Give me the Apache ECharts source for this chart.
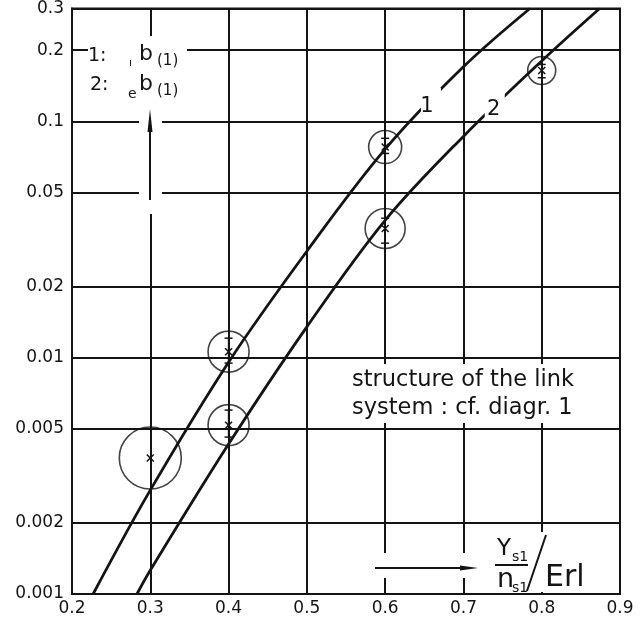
<!DOCTYPE html>
<html><head><meta charset="utf-8">
<script src="https://cdn.jsdelivr.net/npm/echarts@6/dist/echarts.min.js"></script>
<style>html,body{margin:0;padding:0;background:#fff}#c{width:643px;height:620px}</style>
</head><body><div id="c"></div>
<script>
// ---- data ----
const xTicks = [0.2, 0.3, 0.4, 0.5, 0.6, 0.7, 0.8, 0.9];
const yTicks = [0.001, 0.002, 0.005, 0.01, 0.02, 0.05, 0.1, 0.2, 0.3];
const yTickLabels = ['0.001', '0.002', '0.005', '0.01', '0.02', '0.05', '0.1', '0.2', '0.3'];

const curve1X = [0.227, 0.3, 0.4, 0.5, 0.6, 0.7, 0.785];
const curve1Y = [0.001, 0.00275, 0.00957, 0.0282, 0.0762, 0.17, 0.3];
const curve2X = [0.283, 0.3, 0.4, 0.5, 0.6, 0.7, 0.8, 0.874];
const curve2Y = [0.001, 0.00126, 0.00431, 0.0135, 0.0381, 0.0863, 0.18, 0.3];

const measX    = [0.3, 0.4, 0.4, 0.6, 0.6, 0.8];
const measY    = [0.00376, 0.0106, 0.00518, 0.0778, 0.0352, 0.164];
const measLow  = [null, 0.00948, 0.00461, 0.0731, 0.0305, 0.1528];
const measHigh = [null, 0.01209, 0.0060, 0.0847, 0.0389, 0.174];

const curveNames = ['1', '2'];
const curveLabelX = [0.6585, 0.740];
const curveLabelY = [0.12, 0.1167];

// ---- styling ----
const circleDiameters = [62, 41, 41, 33, 40, 28];
const INK = '#141414';
const FONT = 'DejaVu Sans';
const L = Math.log10;

const pts = (xs, ys) => xs.map((x, i) => [x, L(ys[i])]);

const chart = echarts.init(document.getElementById('c'), null, {renderer: 'canvas'});

function txt(text, x, y, size, extra) {
  return Object.assign({type: 'text', x: x, y: y, z: 20,
    style: {text: text, fill: INK, fontSize: size, fontFamily: FONT, verticalAlign: 'middle', align: 'left'}}, extra || {});
}
function mask(x, y, w, h) {
  return {type: 'rect', z: 1, shape: {x: x, y: y, width: w, height: h}, style: {fill: '#fff'}, silent: true};
}
function seg(x1, y1, x2, y2, w) {
  return {type: 'line', z: 20, shape: {x1: x1, y1: y1, x2: x2, y2: y2}, style: {stroke: INK, lineWidth: w || 2}};
}

const option = {
  animation: false,
  backgroundColor: '#fff',
  grid: {left: 72, right: 23, top: 8, bottom: 26, show: true, borderColor: INK, borderWidth: 2, backgroundColor: 'transparent'},
  xAxis: {
    type: 'value', min: 0.2, max: 0.9, interval: 0.1,
    axisLine: {show: true, lineStyle: {color: INK, width: 2}},
    axisTick: {show: false},
    axisLabel: {color: INK, fontSize: 17, fontFamily: FONT, margin: 6, formatter: v => v.toFixed(1)},
    splitLine: {show: true, lineStyle: {color: INK, width: 2}}
  },
  yAxis: {
    type: 'value', min: L(yTicks[0]), max: L(yTicks[yTicks.length - 1]),
    axisLine: {show: true, lineStyle: {color: INK, width: 2}},
    axisTick: {show: false, customValues: yTicks.map(L)},
    axisLabel: {color: INK, fontSize: 17, fontFamily: FONT, margin: 8,
      customValues: yTicks.map(L),
      formatter: v => {
        let best = 0;
        yTicks.forEach((t, i) => { if (Math.abs(L(t) - v) < Math.abs(L(yTicks[best]) - v)) best = i; });
        return yTickLabels[best];
      }},
    splitLine: {show: true, lineStyle: {color: INK, width: 2}}
  },
  series: [
    {type: 'line', name: curveNames[0], data: pts(curve1X, curve1Y), smooth: 0.35, symbol: 'none',
      lineStyle: {color: INK, width: 2.8}, z: 3,
      markPoint: {symbol: 'rect', symbolSize: [20, 30], itemStyle: {color: '#fff'}, z: 6,
        label: {show: true, formatter: curveNames[0], color: INK, fontSize: 21, fontFamily: FONT, offset: [-4, 4]},
        data: [{coord: [curveLabelX[0], L(curveLabelY[0])]}]}},
    {type: 'line', name: curveNames[1], data: pts(curve2X, curve2Y), smooth: 0.35, symbol: 'none',
      lineStyle: {color: INK, width: 2.8}, z: 3,
      markPoint: {symbol: 'rect', symbolSize: [20, 30], itemStyle: {color: '#fff'}, z: 6,
        label: {show: true, formatter: curveNames[1], color: INK, fontSize: 21, fontFamily: FONT, offset: [-1, 4]},
        data: [{coord: [curveLabelX[1], L(curveLabelY[1])]}]}},
    {type: 'scatter', data: pts(measX, measY), symbol: 'circle', z: 4,
      symbolSize: (v, p) => circleDiameters[p.dataIndex],
      itemStyle: {color: 'rgba(0,0,0,0)', borderColor: INK, borderWidth: 1.6}},
    {type: 'custom', z: 5,
      data: measX.map((x, i) => [x, L(measY[i]), measLow[i] == null ? NaN : L(measLow[i]), measHigh[i] == null ? NaN : L(measHigh[i])]),
      renderItem: (params, api) => {
        const c = api.coord([api.value(0), api.value(1)]);
        const st = {stroke: INK, lineWidth: 1.5};
        const children = [
          {type: 'line', shape: {x1: c[0] - 3.5, y1: c[1] - 3.5, x2: c[0] + 3.5, y2: c[1] + 3.5}, style: st},
          {type: 'line', shape: {x1: c[0] - 3.5, y1: c[1] + 3.5, x2: c[0] + 3.5, y2: c[1] - 3.5}, style: st}
        ];
        const lo = api.value(2), hi = api.value(3);
        if (!isNaN(lo) && !isNaN(hi)) {
          const a = api.coord([api.value(0), lo]), b = api.coord([api.value(0), hi]);
          children.push({type: 'line', shape: {x1: a[0], y1: a[1], x2: b[0], y2: b[1]}, style: st});
          children.push({type: 'line', shape: {x1: a[0] - 4, y1: a[1], x2: a[0] + 4, y2: a[1]}, style: st});
          children.push({type: 'line', shape: {x1: b[0] - 4, y1: b[1], x2: b[0] + 4, y2: b[1]}, style: st});
        }
        return {type: 'group', children: children};
      }}
  ],
  graphic: [
    // gaps in the grid for annotations
    mask(88, 36, 99, 68),
    mask(139, 104, 23, 110),
    mask(345, 364, 267, 59),
    mask(370, 553, 110, 25),
    mask(490, 532, 105, 60),
    // legend
    txt('1:', 88, 56, 19),
    txt('ı', 129, 63, 11),
    txt('b', 139, 54, 22),
    txt('(1)', 157, 61, 15),
    txt('2:', 90, 85, 19),
    txt('e', 128, 94, 14),
    txt('b', 139, 84, 22),
    txt('(1)', 157, 91, 15),
    // y arrow
    seg(150, 200, 150, 124, 2),
    {type: 'polygon', z: 20, shape: {points: [[150, 109], [147.5, 132], [152.5, 132]]}, style: {fill: INK}},
    // note
    txt('structure of the link', 352, 380, 22.5),
    txt('system : cf. diagr. 1', 352, 408, 22.5),
    // x arrow and x title
    seg(375, 568, 465, 568, 2),
    {type: 'polygon', z: 20, shape: {points: [[478, 568], [460, 565.5], [460, 570.5]]}, style: {fill: INK}},
    txt('Y', 497, 549, 23),
    txt('s1', 512, 557, 14),
    seg(495, 565, 528, 565, 2),
    txt('n', 497, 580, 27),
    txt('s1', 512, 588, 14),
    seg(527, 591, 546, 535, 2),
    txt('Erl', 545, 578, 30)
  ]
};
chart.setOption(option);
</script>
</body></html>
